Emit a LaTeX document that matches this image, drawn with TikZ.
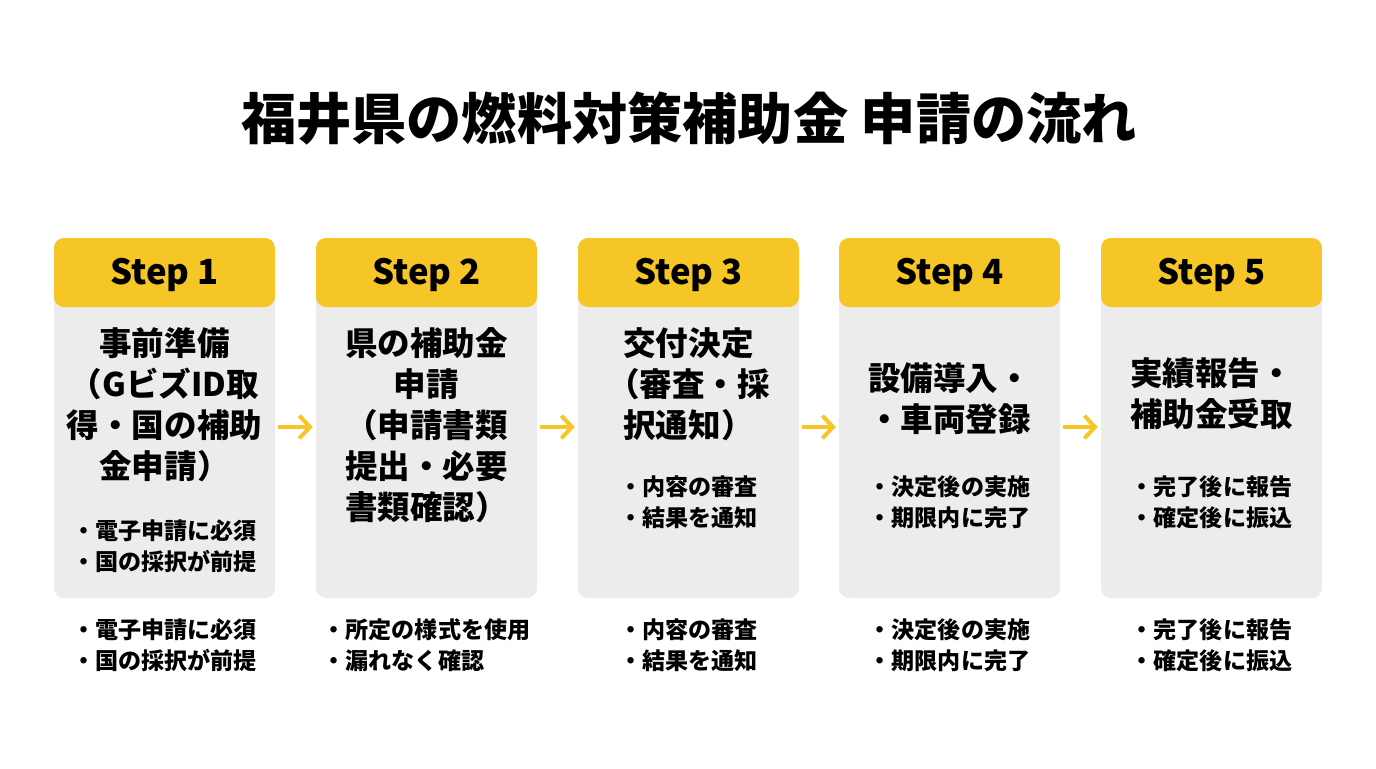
\documentclass[tikz,border=0pt]{standalone}
\usepackage{fontspec}
\setmainfont{Noto Sans CJK JP}
\usepackage{xcolor}
\usepackage{tikz}
\usetikzlibrary{positioning,calc,arrows.meta}

\definecolor{stepyellow}{RGB}{246,198,38}
\definecolor{cardgray}{RGB}{236,236,236}

\begin{document}
\begin{tikzpicture}[x=0.75pt, y=-0.75pt,
  card/.style={rectangle, rounded corners=7.5pt, fill=cardgray, minimum width=165.75pt, minimum height=270pt, inner sep=0pt,
    path picture={\fill[stepyellow] (path picture bounding box.north west) rectangle ([yshift=-51.75pt]path picture bounding box.north east);}},
  steplbl/.style={font=\fontsize{26}{30}\selectfont\bfseries, inner sep=0pt},
  maintxt/.style={font=\fontsize{24.4}{30.75}\selectfont\bfseries, align=center, inner sep=0pt},
  notetxt/.style={font=\fontsize{17.3}{23.25}\selectfont\bfseries, align=left, inner sep=0pt},
  flow/.style={-{Straight Barb[length=8pt, width=17pt]}, line width=3pt, stepyellow}]
  \useasboundingbox (0,0) rectangle (1376,768);
  \fill[white] (0,0) rectangle (1376,768);

  % Title
  \node[font=\fontsize{41.4}{45}\selectfont\bfseries, inner sep=0pt] (title) at (689,118) {福井県の燃料対策補助金 申請の流れ};

  % Cards with yellow step headers
  \node[card] (c1) at (164.5,418) {};
  \node[card] (c2) at (426.5,418) {};
  \node[card] (c3) at (688.5,418) {};
  \node[card] (c4) at (949.5,418) {};
  \node[card] (c5) at (1211.5,418) {};
  \node[steplbl] (s1) at ($(c1.north)+(0,37)$) {Step 1};
  \node[steplbl] (s2) at ($(c2.north)+(0,37)$) {Step 2};
  \node[steplbl] (s3) at ($(c3.north)+(0,37)$) {Step 3};
  \node[steplbl] (s4) at ($(c4.north)+(0,37)$) {Step 4};
  \node[steplbl] (s5) at ($(c5.north)+(0,37)$) {Step 5};

  % Card contents
  \node[maintxt] (m1) at (164.5,405) {事前準備\\（GビズID取\\得・国の補助\\金申請）};
  \node[notetxt] (n1) at (164.5,546.5) {・電子申請に必須\\・国の採択が前提};
  \node[maintxt] (m2) at (426.5,425.5) {県の補助金\\申請\\（申請書類\\提出・必要\\書類確認）};
  \node[maintxt] (m3) at (688.5,384.5) {交付決定\\（審査・採\\択通知）};
  \node[notetxt] (n3) at (688.5,502.5) {・内容の審査\\・結果を通知};
  \node[maintxt] (m4) at (949.5,398.5) {設備導入・\\・車両登録};
  \node[notetxt] (n4) at (949.5,502.5) {・決定後の実施\\・期限内に完了};
  \node[maintxt] (m5) at (1211.5,393.5) {実績報告・\\補助金受取};
  \node[notetxt] (n5) at (1211.5,502.5) {・完了後に報告\\・確定後に振込};

  % Notes under the cards
  \node[notetxt, below=15pt of c1] (o1) {・電子申請に必須\\・国の採択が前提};
  \node[notetxt, below=15pt of c2] (o2) {・所定の様式を使用\\・漏れなく確認};
  \node[notetxt, below=15pt of c3] (o3) {・内容の審査\\・結果を通知};
  \node[notetxt, below=15pt of c4] (o4) {・決定後の実施\\・期限内に完了};
  \node[notetxt, below=15pt of c5] (o5) {・完了後に報告\\・確定後に振込};

  % Flow arrows
  \draw[flow] ($(c1.east)+(3,9)$) -- ($(c2.west)+(-3,9)$);
  \draw[flow] ($(c2.east)+(3,9)$) -- ($(c3.west)+(-3,9)$);
  \draw[flow] ($(c3.east)+(3,9)$) -- ($(c4.west)+(-3,9)$);
  \draw[flow] ($(c4.east)+(3,9)$) -- ($(c5.west)+(-3,9)$);
\end{tikzpicture}
\end{document}
